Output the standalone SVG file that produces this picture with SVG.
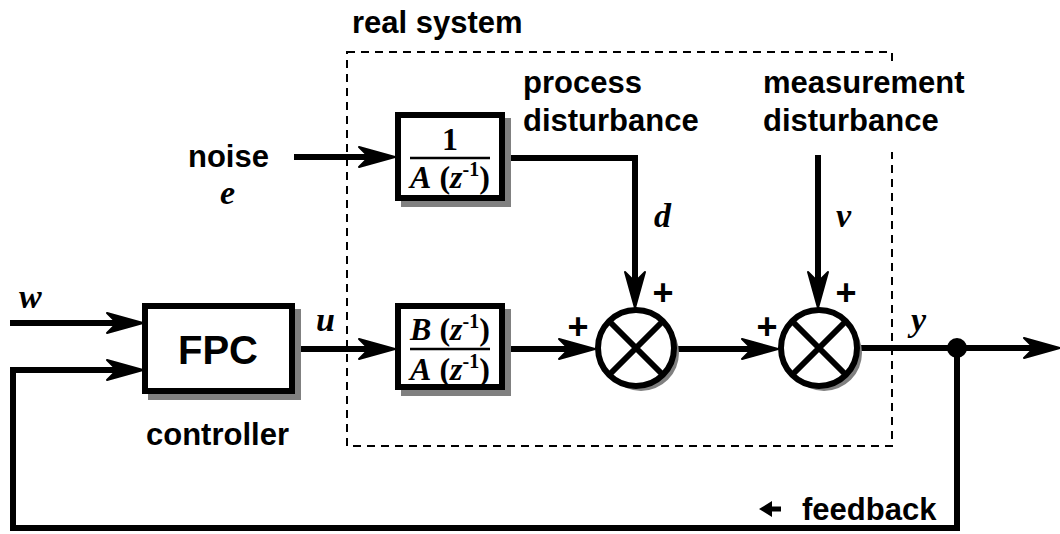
<svg xmlns="http://www.w3.org/2000/svg" width="1060" height="534" viewBox="0 0 1060 534">
<style>
.lbl{font-family:"Liberation Sans",Arial,sans-serif;font-weight:bold;font-size:31px;fill:#000}
.big{font-size:40px}
.math{font-family:"Liberation Serif","Times New Roman",serif;font-weight:bold;font-style:italic;font-size:34px;fill:#000}
.frac{font-family:"Liberation Serif","Times New Roman",serif;font-weight:bold;font-size:32px;fill:#000}
.it{font-style:italic}
.sup{font-size:20px}
.plus{font-family:"Liberation Sans",Arial,sans-serif;font-weight:bold;font-size:36px;fill:#000;text-anchor:middle}
.box{fill:#fff;stroke:#000;stroke-width:6}
.shadow{fill:#808080;stroke:none}
.wire{fill:none;stroke:#000;stroke-width:6;stroke-linejoin:miter}
.bar{stroke:#000;stroke-width:2.5}
</style>
<defs>
<marker id="arr" markerUnits="userSpaceOnUse" markerWidth="44" markerHeight="28" viewBox="-2 -2 44 28" refX="16" refY="12" orient="auto" overflow="visible">
<path d="M0,2 L36,12 L0,22 L10,12 Z" fill="#000" stroke="#000" stroke-width="2" stroke-linejoin="round"/>
</marker>
</defs>

<g id="real-system">
<rect x="347" y="52" width="545" height="394" fill="none" stroke="#000" stroke-width="2" stroke-dasharray="8,6"/>
<text class="lbl" x="352" y="33">real system</text>
</g>

<g id="connectors">
<path class="wire" d="M10,323 H123" marker-end="url(#arr)"/>
<path class="wire" d="M957,348 V528 H13 V370 H123" marker-end="url(#arr)"/>
<path class="wire" d="M295,349 H375" marker-end="url(#arr)"/>
<path class="wire" d="M294,157 H375" marker-end="url(#arr)"/>
<path class="wire" d="M505,158 H635 V288" marker-end="url(#arr)"/>
<path class="wire" d="M818,155 V288" marker-end="url(#arr)"/>
<path class="wire" d="M505,349 H575" marker-end="url(#arr)"/>
<path class="wire" d="M677,349 H758" marker-end="url(#arr)"/>
<path class="wire" d="M860,348 H1040" marker-end="url(#arr)"/>
<circle cx="957" cy="348" r="10" fill="#000"/>
</g>

<g id="fpc">
<rect class="shadow" x="148" y="309" width="153" height="91"/>
<rect class="box" x="145" y="306" width="147" height="85"/>
<text class="lbl big" x="218" y="364" text-anchor="middle">FPC</text>
<text class="lbl" x="146" y="445">controller</text>
</g>

<g id="noise-filter">
<rect class="shadow" x="401" y="118" width="110" height="89"/>
<rect class="box" x="398" y="115" width="104" height="83"/>
<text class="frac" x="450" y="150" text-anchor="middle">1</text>
<line class="bar" x1="410" y1="158" x2="490" y2="158"/>
<text class="frac" x="450" y="188" text-anchor="middle"><tspan class="it">A</tspan> (<tspan class="it">z</tspan><tspan class="sup" dy="-12">-1</tspan><tspan dy="12">)</tspan></text>
</g>

<g id="plant">
<rect class="shadow" x="401" y="309" width="110" height="87"/>
<rect class="box" x="398" y="306" width="104" height="81"/>
<text class="frac" x="450" y="340" text-anchor="middle"><tspan class="it">B</tspan> (<tspan class="it">z</tspan><tspan class="sup" dy="-12">-1</tspan><tspan dy="12">)</tspan></text>
<line class="bar" x1="410" y1="349" x2="490" y2="349"/>
<text class="frac" x="450" y="380" text-anchor="middle"><tspan class="it">A</tspan> (<tspan class="it">z</tspan><tspan class="sup" dy="-12">-1</tspan><tspan dy="12">)</tspan></text>
</g>

<g id="sum1">
<circle cx="641" cy="353" r="38" fill="#808080"/>
<circle cx="636" cy="348" r="38" fill="#fff" stroke="#000" stroke-width="6"/>
<path d="M609,321 L663,375 M663,321 L609,375" stroke="#000" stroke-width="6"/>
<text class="plus" x="663" y="305">+</text>
<text class="plus" x="578" y="339">+</text>
</g>

<g id="sum2">
<circle cx="824" cy="353" r="38" fill="#808080"/>
<circle cx="819" cy="348" r="38" fill="#fff" stroke="#000" stroke-width="6"/>
<path d="M792,321 L846,375 M846,321 L792,375" stroke="#000" stroke-width="6"/>
<text class="plus" x="846" y="305">+</text>
<text class="plus" x="767" y="339">+</text>
</g>

<g id="labels">
<text class="lbl" x="188" y="167">noise</text>
<text class="math" x="220" y="204">e</text>
<text class="lbl" x="523" y="93">process</text>
<text class="lbl" x="523" y="131">disturbance</text>
<rect x="758" y="62" width="212" height="90" fill="#fff"/>
<text class="lbl" x="763" y="93">measurement</text>
<text class="lbl" x="763" y="131">disturbance</text>
<text class="math" x="654" y="227">d</text>
<text class="math" x="836" y="227">v</text>
<text class="math" x="19" y="308">w</text>
<text class="math" x="316" y="331">u</text>
<text class="math" x="911" y="331">y</text>
<path d="M759,509 L772,501 L772,506.5 L781,506.5 L781,511.5 L772,511.5 L772,517 Z" fill="#000"/>
<text class="lbl" x="802" y="520">feedback</text>
</g>
</svg>
